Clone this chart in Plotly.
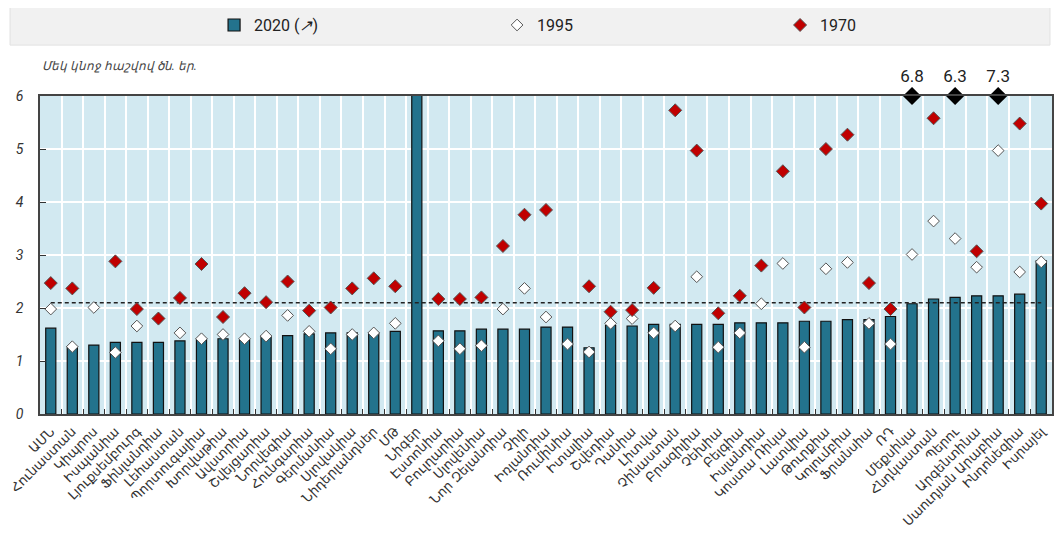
import plotly.graph_objects as go

# Countries (x categories), in display order
countries = [
    "ԱՄՆ", "Հունաստան", "Կիպրոս", "Իսպանիա", "Լյուքսեմբուրգ", "Ֆինլանդիա",
    "Լեհաստան", "Պորտուգալիա", "Խորվաթիա", "Ավստրիա", "Շվեյցարիա", "Նորվեգիա",
    "Հունգարիա", "Գերմանիա", "Սլովակիա", "Նիդերլանդներ", "ՄԹ", "Նիգեր",
    "Էստոնիա", "Բուլղարիա", "Սլովենիա", "Նոր Զելանդիա", "Չիլի", "Իռլանդիա",
    "Ռումինիա", "Իտալիա", "Շվեդիա", "Դանիա", "Լիտվա", "Չինաստան", "Բրազիլիա",
    "Չեխիա", "Բելգիա", "Իսլանդիա", "Կոստա Ռիկա", "Լատվիա", "Թուրքիա",
    "Կոլումբիա", "Ֆրանսիա", "ՌԴ", "Մեքսիկա", "Հնդկաստան", "Պերու",
    "Արգենտինա", "Սաուդյան Արաբիա", "Ինդոնեզիա", "Իսրայել",
]

fert_2020 = [
    1.62, 1.27, 1.30, 1.35, 1.35, 1.35, 1.38, 1.42, 1.42, 1.40, 1.47, 1.48,
    1.51, 1.53, 1.53, 1.53, 1.56, 6.8,
    1.57, 1.57, 1.60, 1.60, 1.60, 1.64, 1.64, 1.25, 1.67, 1.66, 1.69, 1.69,
    1.69, 1.69, 1.72, 1.72, 1.72, 1.75, 1.75, 1.78, 1.78, 1.84, 2.08, 2.17,
    2.20, 2.23, 2.23, 2.26, 2.89,
]

fert_1995 = [
    1.98, 1.27, 2.01, 1.16, 1.66, 1.81, 1.53, 1.42, 1.50, 1.42, 1.47, 1.86,
    1.56, 1.23, 1.50, 1.53, 1.71, None,
    1.38, 1.23, 1.29, 1.98, 2.37, 1.83, 1.32, 1.17, 1.71, 1.80, 1.53, 1.66,
    2.59, 1.26, 1.53, 2.08, 2.84, 1.26, 2.74, 2.86, 1.71, 1.32, 3.01, 3.64,
    3.31, 2.77, 4.97, 2.68, 2.87,
]

fert_1970 = [
    2.47, 2.37, None, 2.88, 1.98, 1.80, 2.19, 2.83, 1.83, 2.28, 2.11, 2.50,
    1.95, 2.01, 2.37, 2.56, 2.41, None,
    2.17, 2.17, 2.20, 3.17, 3.76, 3.85, None, 2.41, 1.93, 1.96, 2.38, 5.73,
    4.97, 1.90, 2.23, 2.80, 4.58, 2.01, 5.00, 5.27, 2.47, 1.98, 6.8, 5.58,
    6.3, 3.07, 7.3, 5.48, 3.97,
]

replacement_level = 2.1
y_max = 6

BAR_COLOR = "#23738d"
RED = "#c00000"
FONT = "Liberation Sans Narrow, Arial Narrow, Roboto, Arial, sans-serif"
LABEL_FONT = "DejaVu Sans, Noto Sans, sans-serif"

# 1970 values above the axis top are drawn as capped black diamonds
in_range_1970 = [v if v is not None and v <= y_max else None for v in fert_1970]
over_x = [c for c, v in zip(countries, fert_1970) if v is not None and v > y_max]
over_v = [v for v in fert_1970 if v is not None and v > y_max]

fig = go.Figure()

fig.add_trace(go.Bar(
    x=countries, y=fert_2020, name="2020 (<i>↗</i>)",
    marker={"color": BAR_COLOR, "line": {"color": "#111111", "width": 1.2}},
    width=0.47,
))

fig.add_trace(go.Scatter(
    x=[countries[0], countries[-1]], y=[replacement_level] * 2,
    mode="lines", line={"color": "#222222", "width": 1.5, "dash": "4px,3px"},
    showlegend=False, hoverinfo="skip",
))

fig.add_trace(go.Scatter(
    x=countries, y=fert_1995, name="1995", mode="markers",
    marker={"symbol": "diamond", "size": 9, "color": "white",
            "line": {"color": "#555555", "width": 1}},
))

fig.add_trace(go.Scatter(
    x=countries, y=in_range_1970, name="1970", mode="markers",
    marker={"symbol": "diamond", "size": 10, "color": RED,
            "line": {"color": "#555555", "width": 1}},
))

fig.add_trace(go.Scatter(
    x=over_x, y=[y_max] * len(over_x), mode="markers+text",
    text=[f"{v:.1f}" for v in over_v], textposition="top center",
    textfont={"size": 17, "color": "#222222", "family": FONT},
    marker={"symbol": "diamond", "size": 14, "color": "black"},
    cliponaxis=False, showlegend=False,
))

# legend background band
fig.add_shape(type="rect", xref="paper", yref="paper",
              x0=-0.0296, x1=0.998, y0=1.16, y1=1.286,
              fillcolor="#f1f1f1", line={"color": "#e2e2e2", "width": 1},
              layer="below")

fig.add_annotation(
    text="<i>Մեկ կնոջ հաշվով ծն. եր.</i>", xref="paper", yref="paper",
    x=0.0, y=1.094, xanchor="left", yanchor="middle", showarrow=False,
    font={"size": 12, "color": "#444444", "family": FONT},
)

# the page body adds an 8 px margin, so the figure is shrunk to fit the window
fig.update_layout(
    width=1047, height=526,
    margin={"l": 32, "r": 3, "t": 88, "b": 120, "autoexpand": False},
    paper_bgcolor="white", plot_bgcolor="#d2e9f1",
    showlegend=True,
    legend={"orientation": "h", "x": 0.172, "y": 1.223, "xanchor": "left",
            "yanchor": "middle", "bgcolor": "rgba(0,0,0,0)",
            "entrywidth": 238, "entrywidthmode": "pixels",
            "font": {"size": 16, "color": "#222222", "family": FONT},
            "itemsizing": "trace"},
    xaxis={"type": "category", "range": [-0.5, len(countries) - 0.5],
           "tickangle": -45, "tickson": "boundaries",
           "showgrid": True, "gridcolor": "white", "gridwidth": 1.5,
           "ticks": "inside", "ticklen": 5, "tickcolor": "#333333",
           "showline": True, "linecolor": "#444444", "linewidth": 1.5,
           "mirror": True, "ticklabelstandoff": 3,
           "tickfont": {"size": 13, "color": "#333333", "family": LABEL_FONT}},
    yaxis={"range": [0, y_max], "dtick": 1, "showgrid": True,
           "gridcolor": "white", "gridwidth": 1.5, "zeroline": False,
           "ticks": "inside", "ticklen": 6, "tickcolor": "#333333",
           "showline": True, "linecolor": "#444444", "linewidth": 1.5,
           "mirror": True, "ticklabelstandoff": 12,
           "tickfont": {"size": 14, "color": "#333333", "family": FONT,
                        "style": "italic"}},
)

fig.write_html("out.html")
